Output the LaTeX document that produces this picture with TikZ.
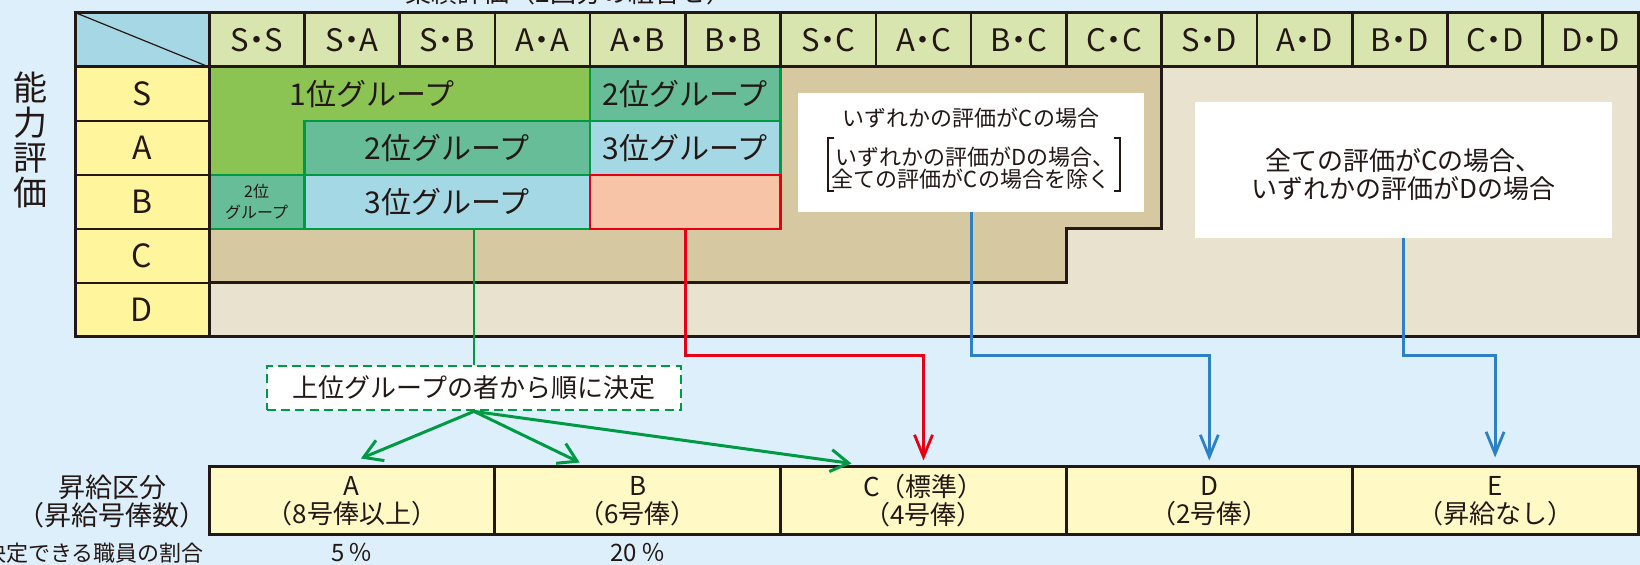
\documentclass[tikz,border=0pt]{standalone}
\usepackage{fontspec}
\setmainfont{Noto Sans CJK JP}
\usetikzlibrary{arrows.meta,calc}
\definecolor{bgblue}{HTML}{DDEFFA}
\definecolor{hdrgreen}{HTML}{D8E5AE}
\definecolor{cornerblue}{HTML}{A5D7E4}
\definecolor{rowyellow}{HTML}{FFF59D}
\definecolor{tandark}{HTML}{D6C9A1}
\definecolor{tanlight}{HTML}{E9E2CE}
\definecolor{gAcol}{HTML}{8CC454}
\definecolor{gBcol}{HTML}{66BD98}
\definecolor{gCcol}{HTML}{A4D8E5}
\definecolor{salcol}{HTML}{F8C4A8}
\definecolor{grn}{HTML}{009A44}
\definecolor{redc}{HTML}{E60012}
\definecolor{bluec}{HTML}{2B80C6}
\definecolor{boxyellow}{HTML}{FFF9C5}
\definecolor{ink}{HTML}{231815}
\newcommand{\hdot}{\kern-0.24em・\kern-0.24em}
\begin{document}
\begin{tikzpicture}[x=0.5pt,y=-0.5pt,
  txt/.style={text=ink, inner sep=0pt},
  hdrtxt/.style={txt, font=\fontsize{15.5pt}{17pt}\selectfont},
  rowtxt/.style={txt, font=\fontsize{16pt}{18pt}\selectfont},
  grptxt/.style={txt, font=\fontsize{15pt}{18pt}\selectfont},
  grpbox/.style={draw=grn, line width=1.4pt, inner sep=0pt, text=ink, font=\fontsize{15pt}{18pt}\selectfont, minimum height=27pt},
  gline/.style={draw=grn, line width=1.4pt},
  tline/.style={draw=ink, line width=1.5pt},
  cline/.style={draw=ink, line width=1.3pt},
  wbox/.style={fill=white, inner sep=0pt},
  wtxtS/.style={txt, anchor=base, font=\fontsize{11pt}{11pt}\selectfont},
  wtxtL/.style={txt, anchor=base, font=\fontsize{13pt}{13pt}\selectfont},
  brk/.style={draw=ink, line width=0.6pt},
  decbox/.style={draw=grn, line width=1.4pt, dash pattern=on 4.5pt off 2.6pt, fill=white, inner sep=0pt, minimum width=207pt, minimum height=22pt, text=ink, font=\fontsize{13pt}{13pt}\selectfont},
  botbox/.style={draw=ink, line width=1.5pt, fill=boxyellow, inner sep=0pt, minimum width=142.9pt, minimum height=34pt, align=center, text=ink, font=\fontsize{13pt}{14pt}\selectfont},
  lbltxt/.style={txt, font=\fontsize{13.5pt}{13.5pt}\selectfont},
  garr/.style={draw=grn, line width=1.5pt, -{Straight Barb[length=9pt,width=11pt,line width=1.5pt]}},
  rarr/.style={draw=redc, line width=1.5pt, -{Straight Barb[length=11pt,width=9pt,line width=1.4pt]}},
  barr/.style={draw=bluec, line width=1.5pt, -{Straight Barb[length=11pt,width=9pt,line width=1.4pt]}}
]
\useasboundingbox (0,0) rectangle (1640,565);
\clip (0,0) rectangle (1640,565);
\fill[bgblue] (0,0) rectangle (1640,565);

% clipped title
\node[txt, anchor=base, font=\fontsize{13pt}{13pt}\selectfont] (ttl) at (569,3) {業績評価（2回分の組合せ）};

% fills
\fill[hdrgreen] (209,12.5) rectangle (1638,67);
\fill[cornerblue] (75,12.5) rectangle (209,67);
\fill[rowyellow] (75,67) rectangle (209,337);
\fill[tanlight] (209,67) rectangle (1638,337);
\fill[tandark] (209,67) -- (1161.7,67) -- (1161.7,229) -- (1066.4,229) -- (1066.4,283) -- (209,283) -- cycle;
\draw[tline] (209,283) -- (1066.4,283) -- (1066.4,229) -- (1161.7,229) -- (1161.7,67);

% groups
\fill[gAcol] (209,67) -- (590.1,67) -- (590.1,121) -- (304.3,121) -- (304.3,175) -- (209,175) -- cycle;
\draw[gline] (209,67) -- (590.1,67) -- (590.1,121) -- (304.3,121) -- (304.3,175) -- (209,175) -- cycle;
\node[grptxt] (g1) at (372,94) {1位グループ};
\node[grpbox, fill=gBcol, minimum width=95.27pt] (g2s) at (685.3,94) {2位グループ};
\node[grpbox, fill=gBcol, minimum width=142.9pt] (g2a) at (447.2,148) {2位グループ};
\node[grpbox, fill=gCcol, minimum width=95.27pt] (g3a) at (685.3,148) {3位グループ};
\node[grpbox, fill=gBcol, minimum width=47.6pt, align=center, font=\fontsize{8pt}{10.5pt}\selectfont] (g2b) at (256.6,202) {2位\\グループ};
\node[grpbox, fill=gCcol, minimum width=142.9pt] (g3b) at (447.2,202) {3位グループ};
\node[grpbox, draw=redc, fill=salcol, minimum width=95.27pt] (sal) at (685.3,202) {};

% row labels
\foreach \yy in {121,175,229,283} \draw[cline] (75,\yy) -- (209,\yy);
\foreach \lab [count=\i from 0] in {S,A,B,C,D}
  \node[rowtxt] (r\lab) at (142,{94+54*\i}) {\lab};

% header
\foreach \i in {1,...,14} \draw[cline] ({209+95.27*\i},12.5) -- ({209+95.27*\i},67);
\foreach \lab [count=\i from 0] in {S\hdot S,S\hdot A,S\hdot B,A\hdot A,A\hdot B,B\hdot B,S\hdot C,A\hdot C,B\hdot C,C\hdot C,S\hdot D,A\hdot D,B\hdot D,C\hdot D,D\hdot D}
  \node[hdrtxt] (h\i) at ({209+95.27*\i+47.6},40) {\lab};
\draw[ink, line width=0.6pt] (75,12.5) -- (209,67);
\draw[tline] (75,67) -- (1638,67);
\draw[tline] (209,12.5) -- (209,337);
\draw[tline] (75,12.5) rectangle (1638,337);

% vertical label
\node[txt, align=center, font=\fontsize{17pt}{17.5pt}\selectfont] (nk) at (30,140) {能\\力\\評\\価};

% white boxes
\node[wbox, minimum width=173pt, minimum height=59.5pt] (w1) at (971,152.5) {};
\node[wtxtS] (w1a) at (971,127) {いずれかの評価がCの場合};
\node[wtxtS] (w1b) at (975,166) {いずれかの評価がDの場合、};
\node[wtxtS] (w1c) at (971,188) {全ての評価がCの場合を除く};
\draw[brk] ($(w1b.base west)+(-1,-28)$) -- ($(w1b.base west)+(-7,-28)$) -- ($(w1b.base west)+(-7,25)$) -- ($(w1b.base west)+(-1,25)$);
\draw[brk] ($(w1b.base east)+(-1,-28)$) -- ($(w1b.base east)+(5,-28)$) -- ($(w1b.base east)+(5,25)$) -- ($(w1b.base east)+(-1,25)$);

\node[wbox, minimum width=208.5pt, minimum height=68pt] (w2) at (1403.5,170) {};
\node[wtxtL] (w2a) at (1403.5,170.5) {全ての評価がCの場合、};
\node[wtxtL] (w2b) at (1403.5,198.5) {いずれかの評価がDの場合};

% decision box
\node[decbox] (dec) at (474,388) {上位グループの者から順に決定};

% bottom boxes
\foreach \n/\ta/\tb [count=\i from 0] in {A/A/（8号俸以上）,B/B/（6号俸）,C/C（標準）/（4号俸）,D/D/（2号俸）,E/E/（昇給なし）}
  \node[botbox] (b\n) at ({209+142.9+285.8*\i},501) {\ta\\\tb};

% left labels
\node[lbltxt] (k1) at (112,487) {昇給区分};
\node[lbltxt] (k2) at (112,515) {（昇給号俸数）};
\node[txt, font=\fontsize{11pt}{11pt}\selectfont, anchor=east] (k3) at (204,553) {決定できる職員の割合};
\node[txt, font=\fontsize{12pt}{12pt}\selectfont] (pA) at (bA.south |- k3) {5\,％};
\node[txt, font=\fontsize{12pt}{12pt}\selectfont] (pB) at (bB.south |- k3) {20\,％};

% connectors
\coordinate (hy) at (0,356);
\draw[draw=grn, line width=1.4pt] (g3b.south -| dec.north) -- (dec.north);
\coordinate (tA) at ($(bA.north)+(9,-7)$);
\coordinate (tB) at ($(bB.north)+(-58,-3)$);
\coordinate (tC) at ($(bC.north)+(-72,-2)$);
\draw[garr] (dec.south) -- (tA);
\draw[garr] (dec.south) -- (tB);
\draw[garr] (dec.south) -- (tC);
\draw[rarr] (sal.south) |- (bC.north |- hy) -- ([yshift=2.5pt]bC.north);
\draw[barr] (w1.south) |- (bD.north |- hy) -- ([yshift=2.5pt]bD.north);
\draw[barr] (w2.south) |- (bE.north |- hy) -- ([yshift=4pt]bE.north);
\end{tikzpicture}
\end{document}
